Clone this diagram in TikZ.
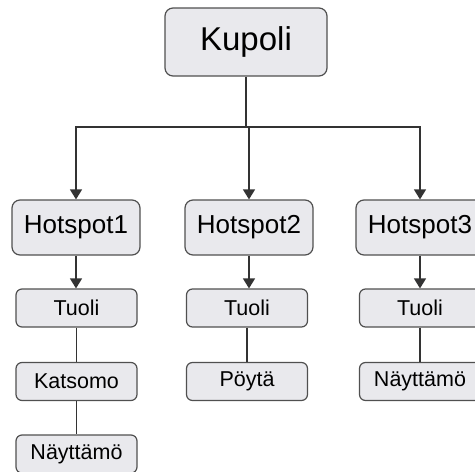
\documentclass[tikz,border=0pt]{standalone}
\usepackage{fontspec}
\setmainfont{Liberation Sans}
\usetikzlibrary{arrows.meta}
\definecolor{boxfill}{HTML}{E9E9ED}
\definecolor{boxline}{HTML}{505050}
\definecolor{conn}{HTML}{333333}
\tikzset{
  box/.style={draw=boxline, line width=1.2pt, fill=boxfill, rounded corners=8pt, inner sep=0pt, align=center},
  bigbox/.style={box, minimum width=162pt, minimum height=68pt, font=\fontsize{33}{36}\selectfont},
  hotbox/.style={box, minimum width=128pt, minimum height=55pt, font=\fontsize{26}{28}\selectfont},
  smallbox/.style={box, rounded corners=6pt, minimum width=121pt, minimum height=38pt, font=\fontsize{21.5}{24}\selectfont},
  conline/.style={draw=conn, line width=1.3pt},
  arrowline/.style={conline, -{Triangle[width=12pt,length=10pt]}}
}
\begin{document}
\begin{tikzpicture}[x=1pt,y=-1pt]
\useasboundingbox (0,0) rectangle (475,472);
\node[bigbox] (K) at (246,42) {Kupoli};
\node[hotbox] (H1) at (76,227.5) {Hotspot1};
\node[hotbox] (H2) at (249,227.5) {Hotspot2};
\node[hotbox] (H3) at (420,227.5) {Hotspot3};
\node[smallbox] (T1) at (76.5,308) {Tuoli};
\node[smallbox] (K1) at (76.5,381.5) {Katsomo};
\node[smallbox] (N1) at (76.5,454) {Näyttämö};
\node[smallbox] (T2) at (247,308) {Tuoli};
\node[smallbox] (P2) at (247,381.5) {Pöytä};
\node[smallbox] (T3) at (420,308) {Tuoli};
\node[smallbox] (N3) at (420,381.5) {Näyttämö};
\coordinate (j) at (K.south |- 0,127);
\draw[conline] (K.south) -- (j);
\draw[arrowline] (j) -| (H1.north);
\draw[arrowline] (j) -| (H3.north);
\draw[arrowline] (j) -- (j -| H2.north) -- (H2.north);
\draw[arrowline] (H1.south) -- (T1.north -| H1.south);
\draw[arrowline] (H2.south) -- (T2.north -| H2.south);
\draw[arrowline] (H3.south) -- (T3.north);
\draw[conline] (T1) -- (K1);
\draw[conline] (K1) -- (N1);
\draw[conline] (T2) -- (P2);
\draw[conline] (T3) -- (N3);
\end{tikzpicture}
\end{document}
